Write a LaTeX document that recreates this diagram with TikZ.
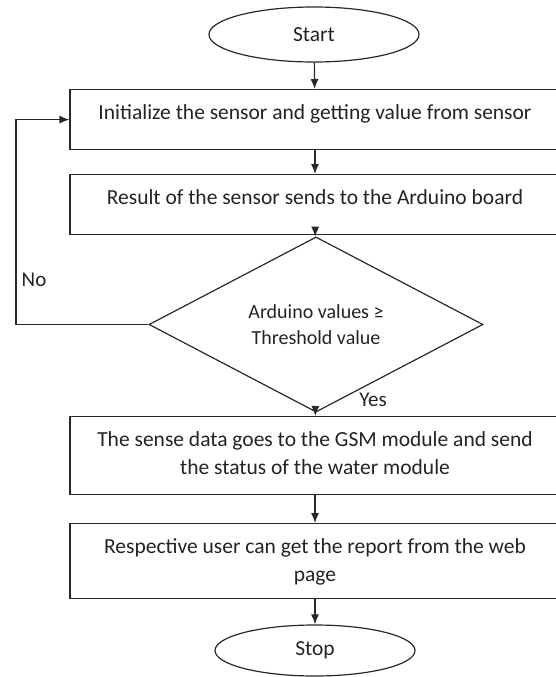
\documentclass[tikz,border=0pt]{standalone}
\usepackage{fontspec}
\setmainfont{Carlito}
\usetikzlibrary{shapes.geometric,arrows.meta}
\definecolor{inkline}{RGB}{40, 40, 40}
\definecolor{inktext}{RGB}{35, 35, 35}
% room above the first line and below the last line of a box
\newcommand{\toproom}{\rule{0pt}{29.5pt}}
\newcommand{\bottomroom}[1]{\rule[-#1]{0pt}{#1}}

\tikzset{
    flowbox/.style  = {draw=inkline, line width=1.2pt, minimum width=490pt, inner sep=0pt, anchor=north,
                       align=center, text=inktext, font=\fontsize{21.5}{28}\selectfont},
    terminal/.style = {draw=inkline, line width=1.2pt, ellipse, inner sep=0pt,
                       text=inktext, font=\fontsize{21.5}{26}\selectfont},
    decision/.style = {draw=inkline, line width=1.2pt, diamond, inner sep=0pt, align=center,
                       text=inktext, font=\fontsize{20}{26}\selectfont},
    flowlabel/.style= {text=inktext, font=\fontsize{21}{26}\selectfont},
    flow/.style     = {draw=inkline, line width=1.2pt, -{Latex[length=10pt,width=8pt]}}
}

\begin{document}
\begin{tikzpicture}[x=1pt, y=-1pt]
            \useasboundingbox (0,0) rectangle (555,677);
            \node[terminal, minimum width=210pt, minimum height=55pt] (start) at (314, 34.5) {Start};
            \node[flowbox] (init)   at (315, 89)  {\toproom Initialize the sensor and getting value from sensor\bottomroom{30.5pt}};
            \node[flowbox] (result) at (315, 174) {\toproom Result of the sensor sends to the Arduino board\bottomroom{30pt}};
            \node[decision, minimum width=334pt, minimum height=127pt] (check) at (316, 324.5)
                 {Arduino values ≥\\Threshold value};
            \node[flowbox] (gsm)    at (315, 416) {\toproom The sense data goes to the GSM module and send\\the status of the water module\bottomroom{20pt}};
            \node[flowbox] (report) at (315, 523) {\toproom Respective user can get the report from the web\\page\bottomroom{17pt}};
            \node[terminal, minimum width=200pt, minimum height=51pt] (stop) at (315, 650.5) {Stop};
            \node[flowlabel] (yes) at (373, 400) {Yes};
            \node[flowlabel] (no)  at (34, 280)  {No};
            \coordinate (loopcorner) at (16, 324.5);
            % main line
            \draw[flow] (start)  -- (init);
            \draw[flow] (init)   -- (result);
            \draw[flow] (result) -- (check);
            \draw[flow] (check)  -- (gsm);
            \draw[flow] (gsm)    -- (report);
            \draw[flow] (report) -- (stop);
            % back to the sensor
            \draw[flow] (check.west) -- (loopcorner) |- (init.west);
        \end{tikzpicture}
\end{document}
